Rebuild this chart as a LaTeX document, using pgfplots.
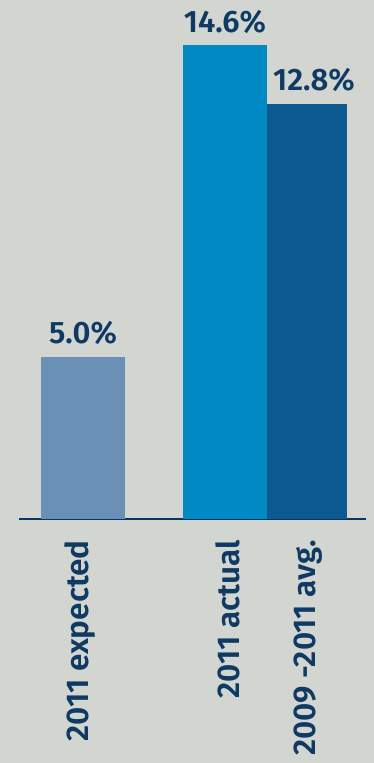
\documentclass[border=0pt]{standalone}
\usepackage{pgfplots}
\pgfplotsset{compat=1.18}
\usepackage{fontspec}
\setmainfont{Fira Sans}[BoldFont={Fira Sans SemiBold}]
\definecolor{bg}{HTML}{D3D6D0}
\definecolor{cexp}{HTML}{6A90B6}
\definecolor{cact}{HTML}{0089C3}
\definecolor{cavg}{HTML}{0D5A91}
\definecolor{txt}{HTML}{0E3A64}
\definecolor{axc}{HTML}{0A3560}
\begin{document}
\begin{tikzpicture}
\useasboundingbox (0,0) rectangle (374bp,763bp);
\fill[bg] (0,0) rectangle (374bp,763bp);
\clip (0,0) rectangle (374bp,763bp);
\begin{axis}[
  at={(19bp,244bp)}, anchor=south west,
  scale only axis, width=347bp, height=519bp,
  xmin=19, xmax=366, ymin=0, ymax=16,
  axis y line=none, axis x line*=bottom,
  x axis line style={line width=2.5bp, color=axc, -},
  ybar, bar shift=0pt,
  xtick={88,239,315},
  xticklabels={2011 expected,2011 actual,2009 -2011 avg.},
  major tick length=0pt,
  xticklabel style={yshift=-21bp, rotate=90, anchor=base east, inner sep=0pt,
    font=\fontsize{31.5bp}{40bp}\selectfont\bfseries, text=txt},
  nodes near coords={\pgfmathprintnumber[assume math mode=true,fixed,fixed zerofill,precision=1]{\pgfplotspointmeta}\%},
  every node near coord/.append style={anchor=south, inner sep=0pt, yshift=12bp,
    font=\fontsize{31bp}{40bp}\selectfont\bfseries, text=txt},
  clip=false,
]
\addplot[fill=cexp, draw=none, bar width=84] coordinates {(83,5.0)};
\addplot[fill=cact, draw=none, bar width=84] coordinates {(225,14.6)};
\addplot[fill=cavg, draw=none, bar width=80, every node near coord/.append style={xshift=7bp}] coordinates {(307,12.8)};
\end{axis}
\end{tikzpicture}
\end{document}
